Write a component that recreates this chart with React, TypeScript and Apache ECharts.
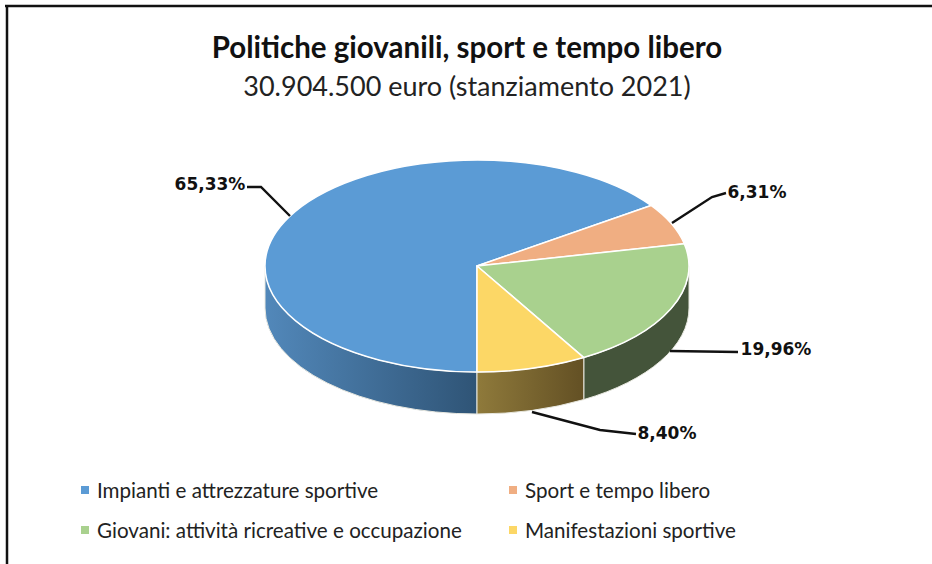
import React, { useEffect, useRef } from "react";
import * as echarts from "echarts";

const titleText = "Politiche giovanili, sport e tempo libero";
const subtitleText = "30.904.500 euro (stanziamento 2021)";
const categories = [
  "Impianti e attrezzature sportive",
  "Sport e tempo libero",
  "Giovani: attività ricreative e occupazione",
  "Manifestazioni sportive",
];
const shares = [65.33, 6.31, 19.96, 8.4];
const topColors = ["#5B9BD5", "#F0AE82", "#A9D18E", "#FCD766"];
const wallFrom = ["#5288BA", "#A8734F", "#44543A", "#8F7A3B"];
const wallTo = ["#2F5476", "#A8734F", "#44543A", "#635024"];

const CX = 477, CY = 266, RX = 212, RY = 106, DEPTH = 42, START = 180;
const leaders = [
  [[290, 216], [261, 187], [247, 187]],
  [[672, 223], [712, 197], [726, 193]],
  [[670, 351], [738, 352]],
  [[532, 412], [600, 430], [636, 434]],
];
const labelAt = [[210, 184], [757, 192], [776, 349], [667, 433]];
const legendAt = [[81, 490], [509, 490], [81, 530], [509, 530]];

const pt = (deg: number, dz = 0): string => {
  const r = (deg * Math.PI) / 180;
  return `${(CX + RX * Math.sin(r)).toFixed(2)} ${(CY - RY * Math.cos(r) + dz).toFixed(2)}`;
};

const renderSlice = (params: any, api: any) => {
  const i = params.dataIndex;
  const before = shares.slice(0, i).reduce((a, b) => a + b, 0);
  const total = shares.reduce((a, b) => a + b, 0);
  const a = START + (before / total) * 360;
  const b = a + (api.value(0) / total) * 360;
  const children: any[] = [];
  // side wall: only the front half of the rim can be seen
  const ranges: number[][] = [[90, 270], [450, 630]];
  for (const [lo, hi] of ranges) {
    const wa = Math.max(a, lo), wb = Math.min(b, hi);
    if (wb > wa) {
      children.push({
        type: "path",
        shape: {
          pathData: `M ${pt(wa)} A ${RX} ${RY} 0 0 1 ${pt(wb)} L ${pt(wb, DEPTH)} A ${RX} ${RY} 0 0 0 ${pt(wa, DEPTH)} Z`,
        },
        style: {
          fill: {
            type: "linear", x: 0, y: 0, x2: 1, y2: 0,
            colorStops: [
              { offset: 0, color: wallFrom[i] },
              { offset: 1, color: wallTo[i] },
            ],
          },
          stroke: "#E8E8E0",
          lineWidth: 1,
        },
      });
    }
  }
  const large = b - a > 180 ? 1 : 0;
  children.push({
    type: "path",
    shape: { pathData: `M ${CX} ${CY} L ${pt(a)} A ${RX} ${RY} 0 ${large} 1 ${pt(b)} Z` },
    style: { fill: topColors[i], stroke: "#FFFFFF", lineWidth: 1.5, lineJoin: "round" },
  });
  children.push({
    type: "polyline",
    shape: { points: leaders[i] },
    style: { fill: "none", stroke: "#111111", lineWidth: 2.4 },
  });
  children.push({
    type: "text",
    style: {
      x: labelAt[i][0], y: labelAt[i][1],
      text: shares[i].toFixed(2).replace(".", ",") + "%",
      font: 'bold 17px "DejaVu Sans"',
      fill: "#111111", align: "center", verticalAlign: "middle",
    },
  });
  return { type: "group", children };
};

export default function App() {
  const ref = useRef<HTMLDivElement>(null);
  useEffect(() => {
    const chart = echarts.init(ref.current!, undefined, { renderer: "svg" });
    chart.setOption({
      animation: false,
      backgroundColor: "#FFFFFF",
      title: [
        {
          text: titleText, left: 467, top: 26, textAlign: "center",
          textStyle: { fontFamily: "Lato", fontWeight: "bold", fontSize: 29.5, color: "#111111" },
        },
        {
          text: subtitleText, left: 467, top: 67, textAlign: "center",
          textStyle: { fontFamily: "Lato", fontWeight: "normal", fontSize: 27, color: "#222222" },
        },
      ].map((t) => ({ ...t, left: 462 })),
      graphic: [
        { type: "line", shape: { x1: 5, y1: 6, x2: 932, y2: 6 }, style: { stroke: "#111111", lineWidth: 2.5 } },
        { type: "line", shape: { x1: 7, y1: 5, x2: 7, y2: 564 }, style: { stroke: "#111111", lineWidth: 2.5 } },
        ...categories.flatMap((name, i) => [
          { type: "rect", shape: { x: legendAt[i][0], y: legendAt[i][1] - 4, width: 8, height: 8 }, style: { fill: topColors[i] } },
          {
            type: "text",
            style: {
              x: legendAt[i][0] + 16, y: legendAt[i][1], text: name,
              font: '20.6px "Lato"', fill: "#222222", verticalAlign: "middle",
            },
          },
        ]),
      ],
      series: [
        {
          type: "custom",
          coordinateSystem: "none",
          renderItem: renderSlice,
          data: shares.map((v, i) => ({ name: categories[i], value: [v] })),
          silent: true,
        },
      ],
    });
    return () => chart.dispose();
  }, []);
  return <div ref={ref} style={{ position: "absolute", left: 0, top: 0, width: 932, height: 564 }} />;
}
